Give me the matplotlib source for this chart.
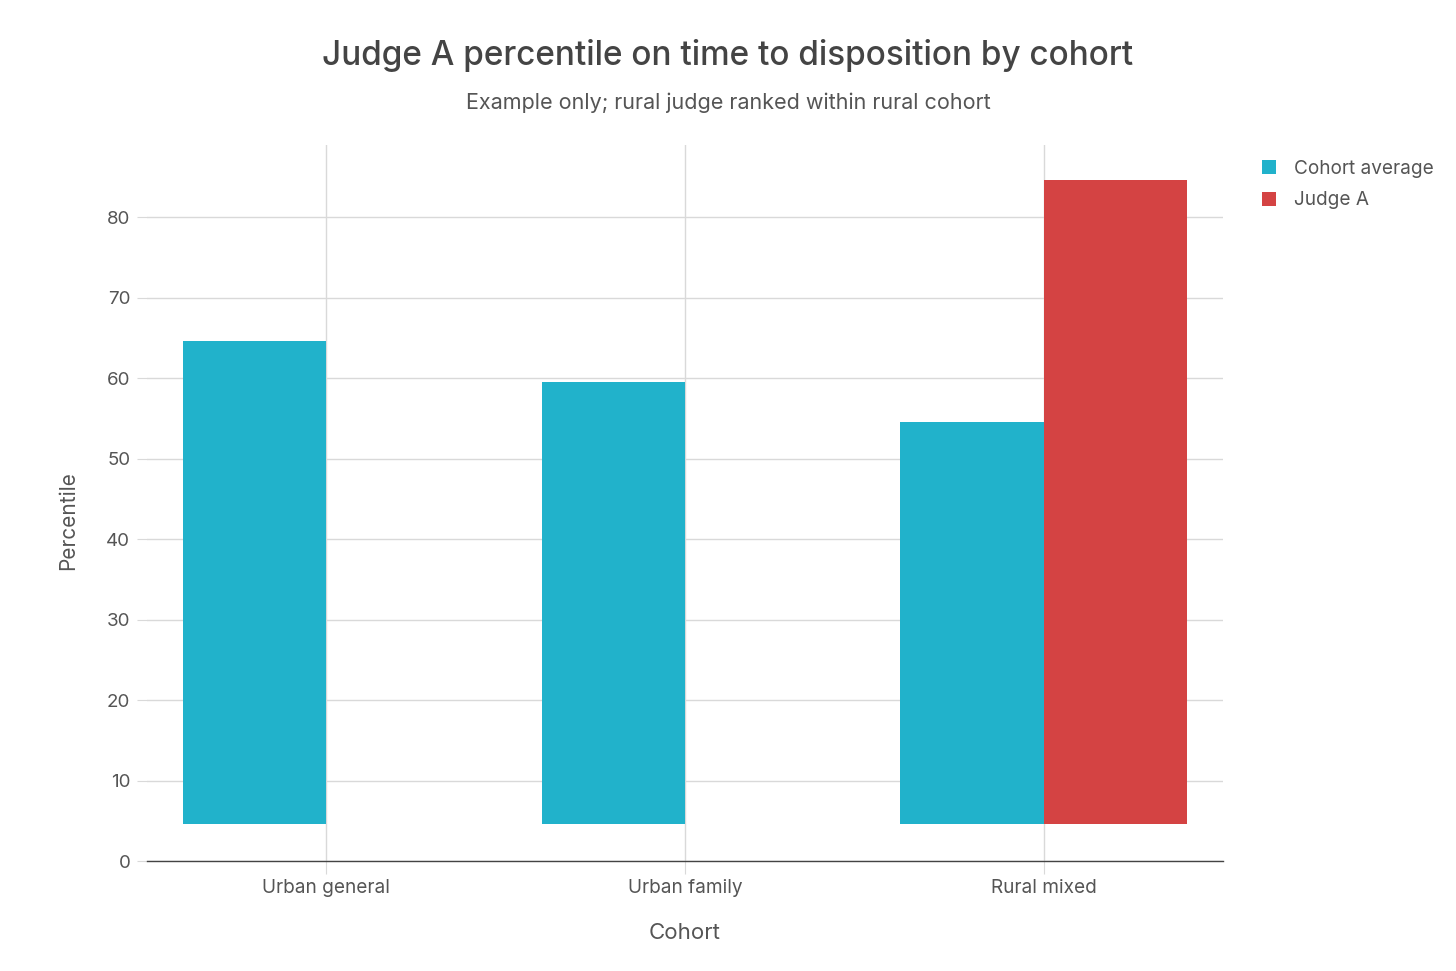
import matplotlib
matplotlib.use("Agg")
import matplotlib.pyplot as plt
import numpy as np

categories = ["Urban general", "Urban family", "Rural mixed"]
cohort_avg = [64.6, 59.6, 54.6]
judge_a = [None, None, 84.6]
bar_base = 4.6
series_names = ["Cohort average", "Judge A"]
yticks = [0, 10, 20, 30, 40, 50, 60, 70, 80]

teal = "#21B2CB"
red = "#D44343"
text_c = "#555555"
grid_c = "#D9D9D9"

plt.rcParams['font.family'] = ['Inter', 'DejaVu Sans']

fig = plt.figure(figsize=(14.56, 9.71), dpi=100)
ax = fig.add_axes([147/1456, 1-861/971, (1223-147)/1456, (861-145)/971])

x = np.arange(len(categories))
w = 0.4
ca_h = [v - bar_base for v in cohort_avg]
ax.bar(x - w/2, ca_h, width=w, bottom=bar_base, color=teal, label=series_names[0], zorder=3)
jx = [xi + w/2 for xi, v in zip(x, judge_a) if v is not None]
jh = [v - bar_base for v in judge_a if v is not None]
ax.bar(jx, jh, width=w, bottom=bar_base, color=red, label=series_names[1], zorder=3)

ax.set_xlim(-0.5, 2.5)
ax.set_ylim(0, 89)
ax.set_yticks(yticks)
ax.set_xticks(x)
ax.set_xticklabels(categories)
ax.grid(True, color=grid_c, linewidth=1, zorder=0)
for s in ["left", "right", "top"]:
    ax.spines[s].set_visible(False)
ax.spines["bottom"].set_color("#444444")
ax.spines["bottom"].set_linewidth(1)
ax.tick_params(axis="y", length=7, color=grid_c, labelsize=13.5, labelcolor=text_c, pad=5)
ax.tick_params(axis="x", length=9, color=grid_c, labelsize=13.7, labelcolor=text_c, pad=4)

ax.set_xlabel("Cohort", fontsize=16, color=text_c, labelpad=19)
ax.set_ylabel("Percentile", fontsize=15, color=text_c)
ax.yaxis.set_label_coords(-0.064, 0.475)

fig.text(0.5, 1-56/971, "Judge A percentile on time to disposition by cohort",
         ha="center", va="center", fontsize=24, color="#444444", fontweight="medium")
fig.text(0.5, 1-103/971, "Example only; rural judge ranked within rural cohort",
         ha="center", va="center", fontsize=15.5, color=text_c)

leg = fig.legend(loc="upper left", bbox_to_anchor=(1262/1456, 1-160/971), frameon=False,
                 fontsize=13.7, handlelength=0.75, handleheight=0.75, handletextpad=0.95,
                 labelspacing=0.7, borderaxespad=0, borderpad=0)
for t in leg.get_texts():
    t.set_color(text_c)

fig.savefig("out.png", dpi=100, facecolor="white")
